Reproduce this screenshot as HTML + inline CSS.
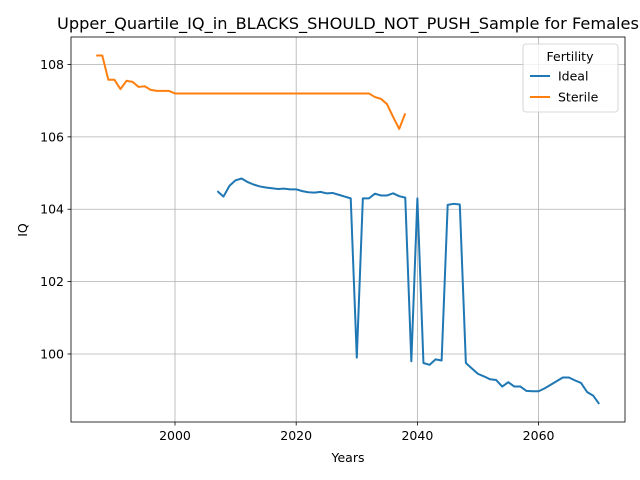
<!DOCTYPE html>
<html><head><meta charset="utf-8"><style>
body{margin:0;background:#fff;overflow:hidden}
text{font-family:"DejaVu Sans","Liberation Sans",sans-serif}
</style></head><body>
<svg id="chart" width="640" height="480" xmlns="http://www.w3.org/2000/svg" style="position:absolute;left:0;top:0"></svg>
<script>
const idealYears=[2007,2008,2009,2010,2011,2012,2013,2014,2015,2016,2017,2018,2019,2020,2021,2022,2023,2024,2025,2026,2027,2028,2029,2030,2031,2032,2033,2034,2035,2036,2037,2038,2039,2040,2041,2042,2043,2044,2045,2046,2047,2048,2049,2050,2051,2052,2053,2054,2055,2056,2057,2058,2059,2060,2061,2062,2063,2064,2065,2066,2067,2068,2069,2070];
const idealValues=[104.5,104.35,104.65,104.8,104.85,104.75,104.68,104.63,104.6,104.58,104.56,104.57,104.55,104.55,104.5,104.47,104.46,104.48,104.44,104.45,104.4,104.35,104.3,99.9,104.3,104.3,104.43,104.38,104.38,104.44,104.36,104.32,99.8,104.3,99.75,99.7,99.85,99.82,104.12,104.15,104.13,99.75,99.6,99.45,99.38,99.3,99.28,99.1,99.22,99.1,99.1,98.98,98.97,98.97,99.05,99.15,99.25,99.35,99.35,99.27,99.2,98.95,98.85,98.62];
const sterileYears=[1987,1988,1989,1990,1991,1992,1993,1994,1995,1996,1997,1998,1999,2000,2032,2033,2034,2035,2036,2037,2038];
const sterileValues=[108.25,108.25,107.58,107.58,107.32,107.55,107.52,107.38,107.4,107.3,107.27,107.27,107.27,107.2,107.2,107.1,107.05,106.9,106.55,106.22,106.65];
const xTicks=[2000,2020,2040,2060];
const yTicks=[100,102,104,106,108];

const L=71,R=625,T=37,B=422;
const xMin=1982.84,xMax=2074.26,yMin=98.12,yMax=108.76;
const sx=v=>L+(v-xMin)/(xMax-xMin)*(R-L);
const sy=v=>B-(v-yMin)/(yMax-yMin)*(B-T);
const svg=document.getElementById('chart');
const NS='http://www.w3.org/2000/svg';
function mk(tag,attrs,parent){const e=document.createElementNS(NS,tag);for(const k in attrs)e.setAttribute(k,attrs[k]);(parent||svg).appendChild(e);return e;}

xTicks.forEach(t=>{const x=sx(t);
 const g=mk('line',{x1:x,x2:x,y1:T,y2:B,stroke:'#b0b0b0','stroke-width':0.8});
 
 
 mk('line',{x1:x,x2:x,y1:B,y2:B+3.5,stroke:'#000','stroke-width':0.8});
 const tx=mk('text',{x:x,y:B+18,'text-anchor':'middle','font-size':12.5});tx.textContent=t;
 
 });
yTicks.forEach(t=>{const y=sy(t);
 const g=mk('line',{x1:L,x2:R,y1:y,y2:y,stroke:'#b0b0b0','stroke-width':0.8});
 
 
 mk('line',{x1:L-3.5,x2:L,y1:y,y2:y,stroke:'#000','stroke-width':0.8});
 const tx=mk('text',{x:L-7,y:y+4.5,'text-anchor':'end','font-size':12.5});tx.textContent=t;
 
 });

function series(xs,vs,color,name){
 const p=mk('polyline',{points:xs.map((x,i)=>sx(x)+','+sy(vs[i])).join(' '),fill:'none',stroke:color,'stroke-width':2,'stroke-linejoin':'round'});
 
 }
series(idealYears,idealValues,'#1f77b4','ideal-line');
series(sterileYears,sterileValues,'#ff7f0e','sterile-line');

const fr=mk('rect',{x:L,y:T,width:R-L,height:B-T,fill:'none',stroke:'#000','stroke-width':0.8});


</script>
<svg width="640" height="480" xmlns="http://www.w3.org/2000/svg" style="position:absolute;left:0;top:0">
<text x="348" y="29" text-anchor="middle" font-size="16.2">Upper_Quartile_IQ_in_BLACKS_SHOULD_NOT_PUSH_Sample for Females</text>
<text x="348" y="462" text-anchor="middle" font-size="12.5">Years</text>
<text x="27" y="230" text-anchor="middle" font-size="12.5" transform="rotate(-90 27 230)">IQ</text>
<g>
<rect x="523" y="44" width="95" height="68" rx="3" fill="#fff" fill-opacity="0.8" stroke="#ccc" stroke-width="0.8"/>
<text x="570" y="61" text-anchor="middle" font-size="12.5">Fertility</text>
<g><line x1="530" x2="550" y1="76" y2="76" stroke="#1f77b4" stroke-width="2"/><text x="558" y="80.5" font-size="12.5">Ideal</text></g>
<g><line x1="530" x2="550" y1="97" y2="97" stroke="#ff7f0e" stroke-width="2"/><text x="558" y="101.5" font-size="12.5">Sterile</text></g>
</g>
</svg>
</body></html>
